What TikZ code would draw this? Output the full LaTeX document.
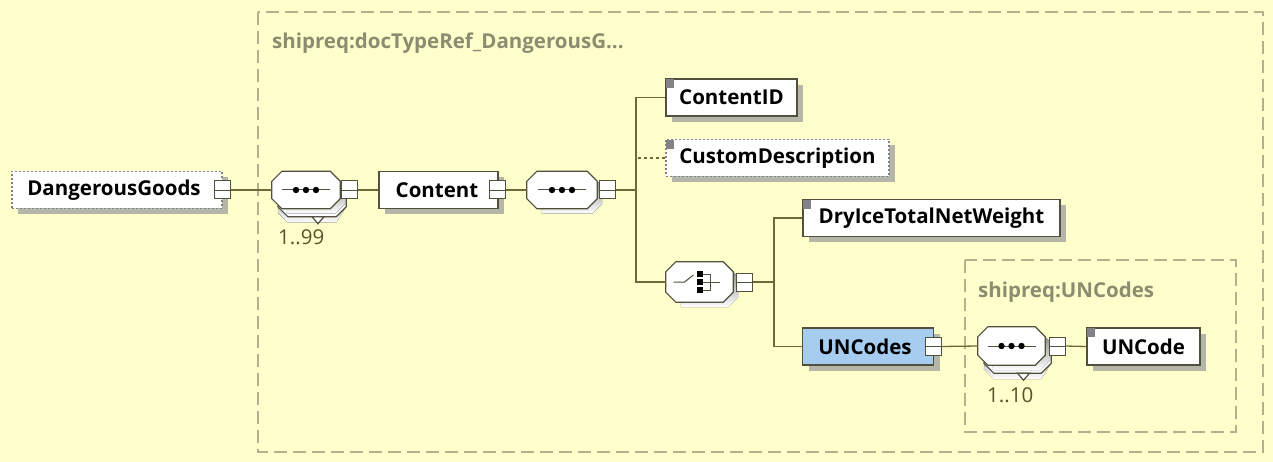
\documentclass[tikz,border=0pt]{standalone}
\usepackage{fontspec}
\setmainfont{Open Sans}
\usetikzlibrary{calc,shadows}
\definecolor{bg}{RGB}{255,255,204}
\definecolor{edge}{RGB}{80,80,60}
\definecolor{wire}{RGB}{110,105,55}
\definecolor{dashc}{RGB}{180,175,140}
\definecolor{titlec}{RGB}{140,140,112}
\definecolor{shade}{RGB}{175,175,165}
\definecolor{blue1}{RGB}{166,204,240}
\definecolor{markc}{RGB}{130,130,135}
\definecolor{multc}{RGB}{85,85,45}
\newcommand\xsdOctPath[1]{($(#1.north west)+(10,0)$) -- ($(#1.north east)+(-10,0)$) -- ($(#1.north east)+(0,10)$) -- ($(#1.south east)+(0,-10)$) -- ($(#1.south east)+(-10,0)$) -- ($(#1.south west)+(10,0)$) -- ($(#1.south west)+(0,-10)$) -- ($(#1.north west)+(0,10)$) -- cycle}
\begin{document}
\begin{tikzpicture}[x=1pt,y=-1pt,
  elem/.style={draw=edge, line width=1.2pt, fill=white, minimum height=37pt, inner sep=0pt,
    font=\fontsize{20.5}{20.5}\selectfont\bfseries,
    drop shadow={shadow xshift=6pt, shadow yshift=-6pt, fill=shade, opacity=0.9}},
  optelem/.style={elem, draw=markc, dash pattern=on 2pt off 2pt},
  sqbox/.style={draw=edge, fill=white, line width=1pt, minimum width=16pt, minimum height=18pt, inner sep=0pt},
  octbox/.style={minimum width=68pt, minimum height=37pt, inner sep=0pt},
  octfill/.style={fill=white, draw=edge, line width=1.2pt},
  wireline/.style={draw=wire, line width=1.3pt},
  dashframe/.style={draw=dashc, line width=1.3pt, dash pattern=on 13pt off 6pt},
  titletext/.style={text=titlec, font=\fontsize{20.5}{20.5}\selectfont\bfseries, anchor=west, inner sep=0pt},
  multtext/.style={text=multc, font=\fontsize{20.5}{20.5}\selectfont, anchor=west, inner sep=0pt},
  marker/.style={fill=markc}
]
\useasboundingbox (0,0) rectangle (1273,462);
\fill[bg] (0,0) rectangle (1273,462);

% frames
\draw[dashframe] (258,12) rectangle (1263,452);
\node[titletext] (t1) at (272,43) {shipreq:docTypeRef\_DangerousG...};
\draw[dashframe] (965,260) rectangle (1236,432);
\node[titletext] (t2) at (978,292) {shipreq:UNCodes};

% DangerousGoods
\node[optelem, minimum width=210pt] (dg) at (117,190) {\hspace*{-6pt}DangerousGoods};
\node[sqbox] (dgs) at (222,190) {};
\draw[edge] (dgs.west) -- (dgs.east);

% sequence 1 (1..99)
\node[octbox] (seq1) at (306,190) {};
\fill[shade] ($(seq1.north west)+(11,13)$) -- ($(seq1.north east)+(-4,13)$) -- ($(seq1.north east)+(6,23)$) -- ($(seq1.south east)+(6,-2)$) -- ($(seq1.south east)+(-4,14)$) -- ($(seq1.south west)+(16,14)$) -- ($(seq1.south west)+(6,4)$) -- cycle;
\filldraw[octfill] ($(seq1.north west)+(16,8)$) -- ($(seq1.north east)+(-4,8)$) -- ($(seq1.north east)+(6,18)$) -- ($(seq1.south east)+(6,-2)$) -- ($(seq1.south east)+(-4,8)$) -- ($(seq1.south west)+(16,8)$) -- ($(seq1.south west)+(6,-2)$) -- cycle;
\filldraw[octfill] ($(seq1.south)+(6,8)$) -- ($(seq1.south)+(18,8)$) -- ($(seq1.south)+(12,15)$) -- cycle;
\fill[shade] ($(seq1.north west)+(15,5)$) -- ($(seq1.north east)+(-5,5)$) -- ($(seq1.north east)+(5,15)$) -- ($(seq1.south east)+(5,-5)$) -- ($(seq1.south east)+(-5,5)$) -- ($(seq1.south west)+(15,5)$) -- cycle;
\filldraw[octfill] \xsdOctPath{seq1};
\draw[edge, line width=1pt] ($(seq1.center)+(-24,0)$) -- ($(seq1.center)+(24,0)$);
\foreach \dx in {-10,0,10} \fill[black] ($(seq1.center)+(\dx,0)$) circle (3.2);
\node[sqbox] (seq1s) at (349,190) {};
\draw[edge] (seq1s.west) -- (seq1s.east);
\node[multtext] (m1) at (278,237) {1..99};

% Content
\node[elem, minimum width=119pt] (content) at (438.5,190) {\hspace*{-3pt}Content};
\node[sqbox] (contents) at (497,190) {};
\draw[edge] (contents.west) -- (contents.east);

% sequence 2
\node[octbox, minimum width=70pt] (seq2) at (562,190) {};
\fill[shade] ($(seq2.north west)+(15,5)$) -- ($(seq2.north east)+(-5,5)$) -- ($(seq2.north east)+(5,15)$) -- ($(seq2.south east)+(5,-5)$) -- ($(seq2.south east)+(-5,5)$) -- ($(seq2.south west)+(15,5)$) -- cycle;
\filldraw[octfill] \xsdOctPath{seq2};
\draw[edge, line width=1pt] ($(seq2.center)+(-24,0)$) -- ($(seq2.center)+(24,0)$);
\foreach \dx in {-10,0,10} \fill[black] ($(seq2.center)+(\dx,0)$) circle (3.2);
\node[sqbox] (seq2s) at (607,190) {};
\draw[edge] (seq2s.west) -- (seq2s.east);
\coordinate (b1) at (636,190);

% children of Content sequence
\node[elem, minimum width=131pt] (cid) at (731.5,97.5) {ContentID};
\fill[marker] ($(cid.north west)+(1,1)$) rectangle +(8,9);
\node[optelem, minimum width=223pt] (cdesc) at (777.5,158) {CustomDescription};
\fill[marker] ($(cdesc.north west)+(1,1)$) rectangle +(8,9);

% choice
\node[octbox, minimum width=67pt, minimum height=40pt] (choice) at (699.5,282) {};
\fill[shade] ($(choice.north west)+(15,5)$) -- ($(choice.north east)+(-5,5)$) -- ($(choice.north east)+(5,15)$) -- ($(choice.south east)+(5,-5)$) -- ($(choice.south east)+(-5,5)$) -- ($(choice.south west)+(15,5)$) -- cycle;
\filldraw[octfill] \xsdOctPath{choice};
\draw[edge, line width=1pt] ($(choice.center)+(-26,0)$) -- ($(choice.center)+(-15,0)$) -- ($(choice.center)+(-6,-7)$);
\fill[black] ($(choice.center)+(-3,-11)$) rectangle ($(choice.center)+(3,-5)$);
\fill[black] ($(choice.center)+(-3,-3)$) rectangle ($(choice.center)+(3,3)$);
\fill[black] ($(choice.center)+(-3,5)$) rectangle ($(choice.center)+(3,11)$);
\draw[edge, line width=1pt] ($(choice.center)+(3,-8)$) -- ($(choice.center)+(11,-8)$) -- ($(choice.center)+(11,8)$) -- ($(choice.center)+(3,8)$);
\draw[edge, line width=1pt] ($(choice.center)+(3,0)$) -- ($(choice.center)+(20,0)$);
\node[sqbox] (choices) at (744,282) {};
\draw[edge] (choices.west) -- (choices.east);
\coordinate (b2) at (774,282);

% choice children
\node[elem, minimum width=257pt] (dry) at (931.5,218) {DryIceTotalNetWeight};
\fill[marker] ($(dry.north west)+(1,1)$) rectangle +(8,9);
\node[elem, fill=blue1, minimum width=131pt] (unc) at (868,346.5) {\hspace*{-6pt}UNCodes};
\node[sqbox] (uncs) at (933.5,346.5) {};
\draw[edge] (uncs.west) -- (uncs.east);

% sequence 3 (1..10)
\node[octbox, minimum width=67pt, minimum height=38pt] (seq3) at (1011.5,346) {};
\fill[shade] ($(seq3.north west)+(11,13)$) -- ($(seq3.north east)+(-4,13)$) -- ($(seq3.north east)+(6,23)$) -- ($(seq3.south east)+(6,-2)$) -- ($(seq3.south east)+(-4,14)$) -- ($(seq3.south west)+(16,14)$) -- ($(seq3.south west)+(6,4)$) -- cycle;
\filldraw[octfill] ($(seq3.north west)+(16,8)$) -- ($(seq3.north east)+(-4,8)$) -- ($(seq3.north east)+(6,18)$) -- ($(seq3.south east)+(6,-2)$) -- ($(seq3.south east)+(-4,8)$) -- ($(seq3.south west)+(16,8)$) -- ($(seq3.south west)+(6,-2)$) -- cycle;
\filldraw[octfill] ($(seq3.south)+(6,8)$) -- ($(seq3.south)+(18,8)$) -- ($(seq3.south)+(12,15)$) -- cycle;
\fill[shade] ($(seq3.north west)+(15,5)$) -- ($(seq3.north east)+(-5,5)$) -- ($(seq3.north east)+(5,15)$) -- ($(seq3.south east)+(5,-5)$) -- ($(seq3.south east)+(-5,5)$) -- ($(seq3.south west)+(15,5)$) -- cycle;
\filldraw[octfill] \xsdOctPath{seq3};
\draw[edge, line width=1pt] ($(seq3.center)+(-24,0)$) -- ($(seq3.center)+(24,0)$);
\foreach \dx in {-10,0,10} \fill[black] ($(seq3.center)+(\dx,0)$) circle (3.2);
\node[sqbox] (seq3s) at (1057,346) {};
\draw[edge] (seq3s.west) -- (seq3s.east);
\node[multtext] (m3) at (987,395) {1..10};

\node[elem, minimum width=113pt] (uncode) at (1143.5,346.5) {UNCode};
\fill[marker] ($(uncode.north west)+(1,1)$) rectangle +(8,9);

% connectors
\draw[wireline] (dgs.east) -- (seq1.west);
\draw[wireline] (seq1s.east) -- (content.west);
\draw[wireline] (contents.east) -- (seq2.west);
\draw[wireline] (seq2s.east) -- (b1);
\draw[wireline] (cid.west) -| (b1) |- (choice.west);
\draw[wireline, dash pattern=on 3pt off 3pt] (cdesc.west) -- (cdesc.west -| b1);
\draw[wireline] (choices.east) -- (b2);
\draw[wireline] (dry.west) -| (b2) |- (unc.west);
\draw[wireline] (uncs.east) -- (seq3.west);
\draw[wireline] (seq3s.east) -- (uncode.west);
\end{tikzpicture}
\end{document}
